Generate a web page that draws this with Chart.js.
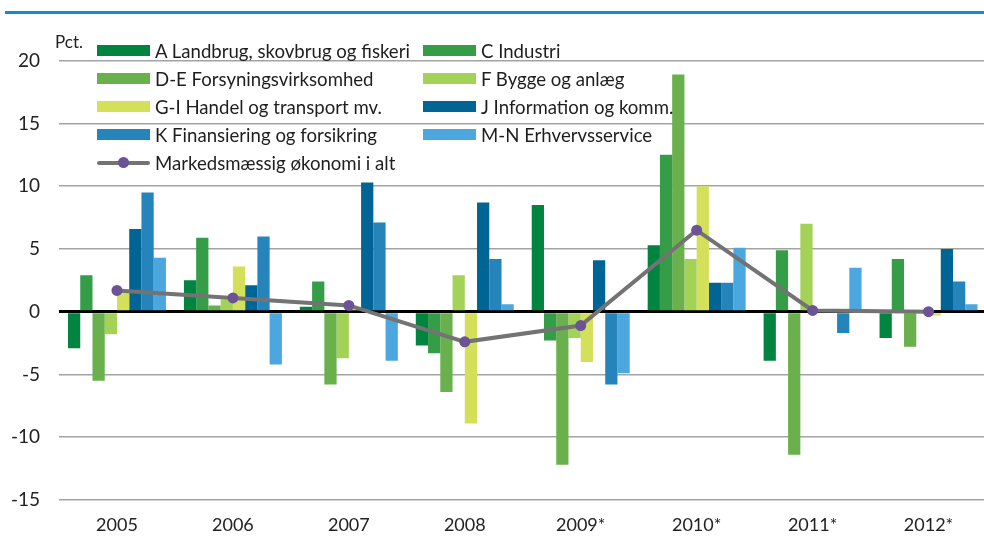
<!DOCTYPE html>
<html>
<head>
<meta charset="utf-8">
<script src="https://cdn.jsdelivr.net/npm/chart.js@4"></script>
<style>
  html, body { margin:0; padding:0; background:#fff; overflow:hidden; }
  #wrap { position:relative; width:984px; height:542px; overflow:hidden; }
  #topline { position:absolute; left:5px; top:11px; width:979px; height:2.5px; background:#0d8fd1; }
  #cv { position:absolute; left:0; top:0; }
  #pct { position:absolute; left:55px; top:31px; font-family:Lato, sans-serif; font-size:17px; color:#222; }
  .lg { position:absolute; font-family:Lato, sans-serif; font-size:18.6px; color:#1e1e1e; white-space:nowrap; line-height:20px; }
  .sw { position:absolute; width:53px; height:11px; }
</style>
</head>
<body>
<div id="wrap">
  <div id="topline"></div>
  <canvas id="cv" width="992" height="542" style="width:992px;height:542px"></canvas>
  <div id="pct">Pct.</div>
  <div id="legend"></div>
</div>
<script>
const years = ['2005','2006','2007','2008','2009*','2010*','2011*','2012*'];
const seriesNames = [
  'A Landbrug, skovbrug og fiskeri',
  'C Industri',
  'D-E Forsyningsvirksomhed',
  'F Bygge og anlæg',
  'G-I Handel og transport mv.',
  'J Information og komm.',
  'K Finansiering og forsikring',
  'M-N Erhvervsservice'
];
const totalName = 'Markedsmæssig økonomi i alt';
const valA  = [-2.9, 2.5, 0.4, -2.7, 8.5, 5.3, -3.9, -2.1];
const valC  = [2.9, 5.9, 2.4, -3.3, -2.3, 12.5, 4.9, 4.2];
const valDE = [-5.5, 0.5, -5.8, -6.4, -12.2, 18.9, -11.4, -2.8];
const valF  = [-1.8, 1.0, -3.7, 2.9, -2.1, 4.2, 7.0, 0];
const valGI = [1.7, 3.6, 0.4, -8.9, -4.0, 10.0, 0, -0.3];
const valJ  = [6.6, 2.1, 10.3, 8.7, 4.1, 2.3, 0, 5.0];
const valK  = [9.5, 6.0, 7.1, 4.2, -5.8, 2.3, -1.7, 2.4];
const valMN = [4.3, -4.2, -3.9, 0.6, -4.9, 5.1, 3.5, 0.6];
const valTotal = [1.7, 1.1, 0.5, -2.4, -1.1, 6.5, 0.1, 0.0];
const yTicks = [20, 15, 10, 5, 0, -5, -10, -15];

const colors = ['#00843f','#359c48','#6ab04c','#a3d257','#d5e05a','#006494','#2585ba','#4ba7dd'];
const barValues = [valA, valC, valDE, valF, valGI, valJ, valK, valMN];

const datasets = barValues.map((v, i) => ({
  type: 'bar',
  label: seriesNames[i],
  data: v,
  backgroundColor: colors[i],
  borderWidth: 0,
  order: 2,
  categoryPercentage: 0.845,
  barPercentage: 1.0
}));
datasets.push({
  type: 'line',
  label: totalName,
  data: valTotal,
  borderColor: '#737373',
  borderWidth: 4,
  pointRadius: 5.5,
  pointHoverRadius: 5.5,
  pointBackgroundColor: '#6b5395',
  pointBorderWidth: 0,
  tension: 0,
  order: 0
});

new Chart(document.getElementById('cv'), {
  type: 'bar',
  data: { labels: years, datasets },
  options: {
    responsive: false,
    animation: false,
    layout: { padding: { top: 60.7, right: 0, left: 0, bottom: 0 } },
    plugins: { legend: { display: false }, tooltip: { enabled: false } },
    scales: {
      x: {
        grid: { display: false },
        border: { display: false },
        ticks: { color: '#222', font: { family: 'Lato', size: 18 }, padding: 6 },
        afterFit: s => { s.height = 42; }
      },
      y: {
        min: -15, max: 20,
        afterBuildTicks: s => { s.ticks = yTicks.map(v => ({ value: v })); },
        grid: {
          drawTicks: false,
          color: c => c.tick && c.tick.value === 0 ? '#000' : '#a3a3a3',
          lineWidth: c => c.tick && c.tick.value === 0 ? 3 : 1.6
        },
        border: { display: false },
        ticks: { color: '#222', font: { family: 'Lato', size: 19 }, padding: 19 },
        afterFit: s => { s.width = 59; }
      }
    }
  }
});

// HTML legend
const lg = document.getElementById('legend');
const rowsY = [50.7, 78.7, 106.7, 134.5, 162.7];
const colX = [97, 423];
seriesNames.forEach((name, i) => {
  const r = Math.floor(i / 2), c = i % 2;
  const sw = document.createElement('div');
  sw.className = 'sw';
  sw.style.left = colX[c] + 'px';
  sw.style.top = (rowsY[r] - 5.5) + 'px';
  sw.style.background = colors[i];
  lg.appendChild(sw);
  const t = document.createElement('div');
  t.className = 'lg';
  t.style.left = (colX[c] + 58) + 'px';
  t.style.top = (rowsY[r] - 10) + 'px';
  t.textContent = name;
  lg.appendChild(t);
});
{
  const y = rowsY[4];
  const ln = document.createElement('div');
  ln.style.cssText = `position:absolute;left:97px;top:${y-2}px;width:53px;height:4px;background:#737373;border-radius:2px;`;
  lg.appendChild(ln);
  const dot = document.createElement('div');
  dot.style.cssText = `position:absolute;left:${123.5-5.5}px;top:${y-5.5}px;width:11px;height:11px;background:#6b5395;border-radius:50%;`;
  lg.appendChild(dot);
  const t = document.createElement('div');
  t.className = 'lg';
  t.style.left = '155px';
  t.style.top = (y - 10) + 'px';
  t.textContent = totalName;
  lg.appendChild(t);
}
</script>
</body>
</html>
